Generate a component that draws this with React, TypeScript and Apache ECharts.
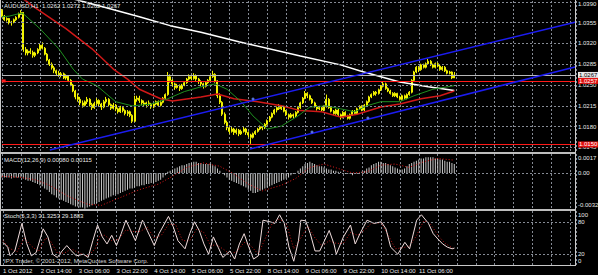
import React, { useEffect, useRef } from "react";
import * as echarts from "echarts";

// ---------- data ----------
// H1 bars, index 0 = 1 Oct 2012 22:00, [open, high, low, close]
const ohlc: number[][] = [
  [1.0376, 1.0378, 1.0364, 1.0366],
  [1.0366, 1.0368, 1.0358, 1.0360],
  [1.0360, 1.0364, 1.0357, 1.0362],
  [1.0362, 1.0363, 1.0352, 1.0355],
  [1.0355, 1.0358, 1.0350, 1.0356],
  [1.0356, 1.0362, 1.0354, 1.0360],
  [1.0360, 1.0366, 1.0358, 1.0364],
  [1.0364, 1.0372, 1.0362, 1.0370],
  [1.0370, 1.0376, 1.0368, 1.0372],
  [1.0372, 1.0373, 1.0306, 1.0310],
  [1.0310, 1.0314, 1.0300, 1.0304],
  [1.0304, 1.0310, 1.0300, 1.0307],
  [1.0307, 1.0312, 1.0302, 1.0305],
  [1.0305, 1.0308, 1.0296, 1.0300],
  [1.0300, 1.0306, 1.0297, 1.0304],
  [1.0304, 1.0312, 1.0302, 1.0310],
  [1.0310, 1.0320, 1.0308, 1.0317],
  [1.0317, 1.0322, 1.0310, 1.0312],
  [1.0312, 1.0314, 1.0300, 1.0302],
  [1.0302, 1.0304, 1.0290, 1.0292],
  [1.0292, 1.0294, 1.0282, 1.0285],
  [1.0285, 1.0288, 1.0276, 1.0279],
  [1.0279, 1.0282, 1.0270, 1.0274],
  [1.0274, 1.0276, 1.0266, 1.0270],
  [1.0270, 1.0274, 1.0264, 1.0267],
  [1.0267, 1.0272, 1.0263, 1.0269],
  [1.0269, 1.0271, 1.0260, 1.0262],
  [1.0262, 1.0268, 1.0259, 1.0265],
  [1.0265, 1.0266, 1.0255, 1.0258],
  [1.0258, 1.0260, 1.0248, 1.0250],
  [1.0250, 1.0252, 1.0238, 1.0240],
  [1.0240, 1.0242, 1.0226, 1.0230],
  [1.0230, 1.0236, 1.0222, 1.0226],
  [1.0226, 1.0230, 1.0216, 1.0220],
  [1.0220, 1.0224, 1.0212, 1.0216],
  [1.0216, 1.0224, 1.0214, 1.0222],
  [1.0222, 1.0230, 1.0218, 1.0226],
  [1.0226, 1.0228, 1.0214, 1.0217],
  [1.0217, 1.0220, 1.0208, 1.0212],
  [1.0212, 1.0222, 1.0210, 1.0219],
  [1.0219, 1.0228, 1.0216, 1.0224],
  [1.0224, 1.0226, 1.0214, 1.0218],
  [1.0218, 1.0220, 1.0208, 1.0213],
  [1.0213, 1.0225, 1.0211, 1.0222],
  [1.0222, 1.0230, 1.0219, 1.0226],
  [1.0226, 1.0228, 1.0214, 1.0217],
  [1.0217, 1.0219, 1.0208, 1.0211],
  [1.0211, 1.0220, 1.0209, 1.0216],
  [1.0216, 1.0218, 1.0206, 1.0210],
  [1.0210, 1.0212, 1.0202, 1.0205],
  [1.0205, 1.0215, 1.0203, 1.0212],
  [1.0212, 1.0214, 1.0204, 1.0207],
  [1.0207, 1.0209, 1.0199, 1.0202],
  [1.0202, 1.0208, 1.0198, 1.0205],
  [1.0205, 1.0207, 1.0196, 1.0199],
  [1.0199, 1.0201, 1.0186, 1.0189],
  [1.0189, 1.0232, 1.0188, 1.0226],
  [1.0226, 1.0232, 1.0222, 1.0228],
  [1.0228, 1.0232, 1.0220, 1.0224],
  [1.0224, 1.0226, 1.0216, 1.0220],
  [1.0220, 1.0224, 1.0214, 1.0217],
  [1.0217, 1.0222, 1.0212, 1.0220],
  [1.0220, 1.0224, 1.0215, 1.0218],
  [1.0218, 1.0220, 1.0210, 1.0213],
  [1.0213, 1.0220, 1.0211, 1.0218],
  [1.0218, 1.0224, 1.0216, 1.0222],
  [1.0222, 1.0224, 1.0213, 1.0216],
  [1.0216, 1.0224, 1.0214, 1.0221],
  [1.0221, 1.0230, 1.0219, 1.0228],
  [1.0228, 1.0236, 1.0226, 1.0234],
  [1.0234, 1.0272, 1.0232, 1.0264],
  [1.0264, 1.0268, 1.0254, 1.0258],
  [1.0258, 1.0260, 1.0248, 1.0252],
  [1.0252, 1.0254, 1.0242, 1.0246],
  [1.0246, 1.0252, 1.0244, 1.0249],
  [1.0249, 1.0251, 1.0240, 1.0244],
  [1.0244, 1.0252, 1.0242, 1.0250],
  [1.0250, 1.0256, 1.0248, 1.0254],
  [1.0254, 1.0262, 1.0252, 1.0260],
  [1.0260, 1.0268, 1.0258, 1.0264],
  [1.0264, 1.0266, 1.0258, 1.0261],
  [1.0261, 1.0270, 1.0259, 1.0266],
  [1.0266, 1.0268, 1.0257, 1.0260],
  [1.0260, 1.0262, 1.0252, 1.0256],
  [1.0256, 1.0258, 1.0248, 1.0252],
  [1.0252, 1.0254, 1.0244, 1.0248],
  [1.0248, 1.0256, 1.0246, 1.0254],
  [1.0254, 1.0260, 1.0252, 1.0258],
  [1.0258, 1.0266, 1.0256, 1.0264],
  [1.0264, 1.0274, 1.0262, 1.0268],
  [1.0268, 1.0270, 1.0254, 1.0257],
  [1.0257, 1.0258, 1.0228, 1.0232],
  [1.0232, 1.0236, 1.0218, 1.0221],
  [1.0221, 1.0223, 1.0198, 1.0201],
  [1.0201, 1.0204, 1.0184, 1.0187],
  [1.0187, 1.0190, 1.0174, 1.0178],
  [1.0178, 1.0180, 1.0168, 1.0172],
  [1.0172, 1.0180, 1.0170, 1.0176],
  [1.0176, 1.0178, 1.0166, 1.0170],
  [1.0170, 1.0177, 1.0167, 1.0174],
  [1.0174, 1.0176, 1.0164, 1.0168],
  [1.0168, 1.0175, 1.0166, 1.0172],
  [1.0172, 1.0180, 1.0170, 1.0176],
  [1.0176, 1.0178, 1.0166, 1.0170],
  [1.0170, 1.0172, 1.0162, 1.0166],
  [1.0166, 1.0168, 1.0151, 1.0162],
  [1.0162, 1.0170, 1.0160, 1.0168],
  [1.0168, 1.0174, 1.0166, 1.0172],
  [1.0172, 1.0178, 1.0170, 1.0176],
  [1.0176, 1.0182, 1.0174, 1.0180],
  [1.0180, 1.0181, 1.0174, 1.0178],
  [1.0178, 1.0186, 1.0176, 1.0184],
  [1.0184, 1.0192, 1.0182, 1.0190],
  [1.0190, 1.0198, 1.0188, 1.0196],
  [1.0196, 1.0204, 1.0194, 1.0202],
  [1.0202, 1.0210, 1.0200, 1.0208],
  [1.0208, 1.0214, 1.0204, 1.0212],
  [1.0212, 1.0218, 1.0208, 1.0210],
  [1.0210, 1.0216, 1.0208, 1.0214],
  [1.0214, 1.0215, 1.0204, 1.0206],
  [1.0206, 1.0208, 1.0198, 1.0200],
  [1.0200, 1.0202, 1.0192, 1.0196],
  [1.0196, 1.0203, 1.0194, 1.0200],
  [1.0200, 1.0202, 1.0194, 1.0198],
  [1.0198, 1.0206, 1.0196, 1.0204],
  [1.0204, 1.0214, 1.0202, 1.0212],
  [1.0212, 1.0222, 1.0210, 1.0220],
  [1.0220, 1.0230, 1.0218, 1.0228],
  [1.0228, 1.0240, 1.0226, 1.0236],
  [1.0236, 1.0238, 1.0228, 1.0232],
  [1.0232, 1.0234, 1.0224, 1.0226],
  [1.0226, 1.0228, 1.0218, 1.0220],
  [1.0220, 1.0222, 1.0212, 1.0214],
  [1.0214, 1.0216, 1.0207, 1.0210],
  [1.0210, 1.0215, 1.0208, 1.0212],
  [1.0212, 1.0213, 1.0205, 1.0208],
  [1.0208, 1.0216, 1.0206, 1.0214],
  [1.0214, 1.0234, 1.0212, 1.0226],
  [1.0226, 1.0228, 1.0210, 1.0212],
  [1.0212, 1.0214, 1.0204, 1.0206],
  [1.0206, 1.0208, 1.0200, 1.0202],
  [1.0202, 1.0210, 1.0200, 1.0208],
  [1.0208, 1.0210, 1.0198, 1.0200],
  [1.0200, 1.0202, 1.0192, 1.0196],
  [1.0196, 1.0206, 1.0194, 1.0204],
  [1.0204, 1.0206, 1.0196, 1.0198],
  [1.0198, 1.0200, 1.0192, 1.0194],
  [1.0194, 1.0202, 1.0192, 1.0200],
  [1.0200, 1.0208, 1.0198, 1.0206],
  [1.0206, 1.0208, 1.0200, 1.0202],
  [1.0202, 1.0212, 1.0200, 1.0210],
  [1.0210, 1.0216, 1.0208, 1.0214],
  [1.0214, 1.0216, 1.0206, 1.0208],
  [1.0208, 1.0218, 1.0206, 1.0216],
  [1.0216, 1.0224, 1.0214, 1.0222],
  [1.0222, 1.0232, 1.0220, 1.0230],
  [1.0230, 1.0236, 1.0228, 1.0234],
  [1.0234, 1.0240, 1.0232, 1.0238],
  [1.0238, 1.0240, 1.0232, 1.0236],
  [1.0236, 1.0244, 1.0234, 1.0242],
  [1.0242, 1.0250, 1.0240, 1.0248],
  [1.0248, 1.0256, 1.0246, 1.0252],
  [1.0252, 1.0254, 1.0242, 1.0244],
  [1.0244, 1.0246, 1.0238, 1.0240],
  [1.0240, 1.0242, 1.0234, 1.0236],
  [1.0236, 1.0238, 1.0230, 1.0232],
  [1.0232, 1.0238, 1.0230, 1.0236],
  [1.0236, 1.0237, 1.0228, 1.0230],
  [1.0230, 1.0232, 1.0224, 1.0226],
  [1.0226, 1.0234, 1.0224, 1.0232],
  [1.0232, 1.0234, 1.0226, 1.0228],
  [1.0228, 1.0236, 1.0226, 1.0234],
  [1.0234, 1.0240, 1.0232, 1.0238],
  [1.0238, 1.0260, 1.0236, 1.0258],
  [1.0258, 1.0274, 1.0256, 1.0272],
  [1.0272, 1.0282, 1.0270, 1.0280],
  [1.0280, 1.0282, 1.0272, 1.0276],
  [1.0276, 1.0286, 1.0274, 1.0284],
  [1.0284, 1.0286, 1.0278, 1.0280],
  [1.0280, 1.0288, 1.0278, 1.0286],
  [1.0286, 1.0294, 1.0284, 1.0290],
  [1.0290, 1.0292, 1.0282, 1.0284],
  [1.0284, 1.0286, 1.0278, 1.0280],
  [1.0280, 1.0288, 1.0278, 1.0286],
  [1.0286, 1.0288, 1.0280, 1.0282],
  [1.0282, 1.0284, 1.0274, 1.0276],
  [1.0276, 1.0282, 1.0274, 1.0280],
  [1.0280, 1.0282, 1.0272, 1.0274],
  [1.0274, 1.0276, 1.0268, 1.0270],
  [1.0270, 1.0274, 1.0268, 1.0272],
  [1.0272, 1.0273, 1.0260, 1.0262],
  [1.0262, 1.0272, 1.0262, 1.0267],
];

// moving averages read at points along each line: [bar index, price]
const maWhite = [[0, 1.0424], [16, 1.0409], [33, 1.0392], [46, 1.0378], [58, 1.0365], [71, 1.035], [84, 1.0339], [100, 1.0323], [126, 1.0299], [143, 1.0284], [151, 1.0274], [160, 1.0264], [168, 1.0255], [180, 1.0247], [191, 1.0241]];
const maRed = [[0, 1.0418], [10, 1.0392], [13, 1.0383], [27, 1.0345], [38, 1.0311], [47, 1.0277], [53, 1.026], [58, 1.0243], [67, 1.0227], [72, 1.0223], [84, 1.023], [91, 1.0235], [98, 1.0227], [108, 1.0222], [118, 1.0215], [126, 1.0207], [135, 1.0205], [143, 1.0196], [150, 1.0201], [160, 1.0213], [168, 1.0218], [177, 1.0227], [185, 1.0232], [191, 1.024]];
const maGreen = [[0, 1.0365], [3, 1.0366], [8, 1.0371], [9, 1.037], [16, 1.0345], [24, 1.0311], [30, 1.0277], [34, 1.026], [40, 1.0249], [48, 1.0222], [55, 1.0215], [63, 1.0218], [70, 1.0227], [77, 1.0239], [84, 1.0247], [90, 1.0252], [95, 1.0243], [101, 1.0222], [106, 1.0198], [112, 1.0176], [118, 1.0181], [125, 1.0198], [130, 1.0213], [137, 1.0215], [143, 1.021], [149, 1.0205], [154, 1.0215], [160, 1.0222], [168, 1.0222], [174, 1.0232], [182, 1.0243], [191, 1.0249]];

// trend lines (two anchor points each)
const trendUpper = [[20.2, 1.01407], [242.4, 1.03562]];
const trendLower = [[104.7, 1.01424], [242.4, 1.02809]];
const trendDots = [[106, 1.02265], [130.9, 1.0171], [154.5, 1.01946]];

const resistanceLevel = 1.0257;
const supportLevel = 1.015;
const bidPrice = 1.0267;
const priceTicks = [1.039, 1.0355, 1.032, 1.0285, 1.025, 1.0215, 1.018, 1.0145];

// MACD(12,26,9) main histogram, one value per bar
const macdMain = [
  -0.0004, -0.0004, -0.0004, -0.0004, -0.0005, -0.0004, -0.0004, -0.0004,
  -0.0004, -0.0005, -0.0006, -0.0007, -0.0007, -0.0008, -0.0009,
  -0.001, -0.0011, -0.0012, -0.0014, -0.0015, -0.0017,
  -0.0019, -0.002, -0.0022, -0.0023, -0.0024, -0.0025, -0.0026, -0.0027,
  -0.0028, -0.0029, -0.003, -0.003, -0.0031, -0.0031, -0.0032, -0.0031,
  -0.003, -0.0029, -0.0028, -0.0027, -0.0026,
  -0.0025, -0.0024, -0.0023, -0.0022, -0.0021, -0.002, -0.0019, -0.0019, -0.0018,
  -0.0017, -0.0016, -0.0015, -0.0014, -0.0014, -0.0013, -0.0012, -0.0012,
  -0.0011, -0.0011, -0.001, -0.001, -0.0009, -0.0009, -0.0008, -0.0007, -0.0006,
  -0.0004, -0.0002,
  0.0001, 0.0002, 0.0003, 0.0004,
  0.0005, 0.0006, 0.0007, 0.0007,
  0.0008, 0.0009, 0.0009, 0.001, 0.001, 0.0009, 0.0009,
  0.0008, 0.0008, 0.0008, 0.0008, 0.0007, 0.0006,
  0.0004, 0.0002, 0.0,
  -0.0002, -0.0004, -0.0006, -0.0007, -0.0008, -0.0009, -0.001, -0.0011, -0.0012, -0.0013,
  -0.0015, -0.0016, -0.0018, -0.0018, -0.0017, -0.0016,
  -0.0015, -0.0014, -0.0013, -0.0012, -0.0011, -0.001, -0.0009, -0.0008,
  -0.0007, -0.0006, -0.0005, -0.0004,
  -0.0002, -0.0001, 0.0, 0.0002, 0.0004,
  0.0006, 0.0008, 0.0009, 0.001,
  0.0009, 0.0008, 0.0007, 0.0006, 0.0006, 0.0005,
  0.0004, 0.0003, 0.0003, 0.0002, 0.0002, 0.0001, 0.0001,
  0.0, -0.0001, -0.0001, -0.0001, -0.0002, -0.0001, -0.0001, 0.0,
  0.0001, 0.0002, 0.0004, 0.0005,
  0.0007, 0.0008, 0.0009, 0.001, 0.001, 0.0009, 0.0009,
  0.0008, 0.0007, 0.0006, 0.0005,
  0.0004, 0.0003, 0.0003, 0.0004,
  0.0006, 0.0008, 0.0009, 0.001, 0.0011, 0.0012,
  0.0013, 0.0013, 0.0014, 0.0014, 0.0014, 0.0014, 0.0013, 0.0013, 0.0012,
  0.0012, 0.0011, 0.001, 0.001, 0.0009, 0.0008,
];
const macdSignal = [[0, -0.0003], [8, -0.0004], [14, -0.0006], [20, -0.0011], [28, -0.0021], [36, -0.0028], [42, -0.0029], [50, -0.0022], [58, -0.0015], [66, -0.001], [72, -0.0003], [78, 0.0005], [85, 0.0009], [92, 0.0006], [98, -0.0001], [104, -0.001], [110, -0.0016], [118, -0.0011], [124, -0.0005], [130, 0.0005], [136, 0.0008], [142, 0.0004], [148, 0.0], [154, 0.0001], [160, 0.0007], [166, 0.0008], [172, 0.0005], [178, 0.001], [184, 0.0013], [191, 0.00115]];

// Stochastic(5,3,3): [bar index, value]
const stochMain = [[0, 42], [2, 33], [3, 17], [5, 26], [8, 77], [10, 40], [12, 17], [14, 23], [17, 67], [19, 52], [21, 20], [23, 14], [25, 26], [27, 36], [29, 26], [31, 17], [34, 20], [36, 14], [38, 45], [40, 74], [42, 52], [44, 39], [46, 55], [48, 36], [50, 58], [52, 83], [54, 64], [56, 45], [59, 83], [61, 64], [64, 36], [66, 58], [68, 74], [70, 90], [72, 71], [74, 45], [77, 30], [79, 58], [81, 80], [83, 64], [85, 39], [87, 20], [89, 52], [91, 33], [93, 14], [96, 26], [98, 11], [100, 39], [102, 58], [104, 33], [106, 11], [108, 17], [110, 83], [113, 80], [115, 77], [117, 93], [119, 77], [121, 33], [123, 7], [125, 45], [126, 83], [128, 82], [130, 58], [132, 26], [134, 26], [138, 64], [140, 39], [141, 20], [144, 52], [147, 74], [149, 39], [151, 58], [154, 83], [157, 77], [160, 80], [162, 67], [164, 33], [167, 20], [170, 42], [172, 30], [175, 83], [177, 93], [180, 77], [182, 58], [184, 48], [186, 39], [188, 33], [190, 30], [191, 31.3253]];
const stochSignal = [[0, 45], [3, 30], [6, 25], [9, 50], [12, 35], [15, 25], [18, 50], [20, 45], [23, 22], [26, 22], [29, 30], [32, 22], [36, 17], [39, 30], [41, 55], [43, 55], [46, 45], [49, 48], [52, 65], [55, 62], [58, 62], [61, 70], [64, 50], [67, 55], [70, 75], [73, 75], [76, 45], [79, 45], [82, 67], [85, 60], [88, 35], [90, 38], [93, 30], [96, 20], [99, 25], [102, 42], [105, 35], [108, 20], [111, 50], [114, 78], [117, 85], [120, 75], [123, 30], [126, 50], [129, 72], [132, 50], [135, 35], [138, 45], [141, 40], [144, 40], [147, 60], [150, 55], [153, 65], [156, 78], [160, 78], [163, 55], [166, 30], [169, 32], [172, 35], [175, 55], [178, 82], [181, 75], [184, 55], [187, 40], [191, 29.1883]];

// time axis labels: [bar index, text]
const timeLabelIdx = [0, 16, 32, 48, 64, 80, 96, 112, 128, 144, 160, 176];
const timeLabelText = ["1 Oct 2012", "2 Oct 14:00", "3 Oct 06:00", "3 Oct 22:00", "4 Oct 14:00", "5 Oct 06:00", "5 Oct 22:00", "8 Oct 14:00", "9 Oct 06:00", "9 Oct 22:00", "10 Oct 14:00", "11 Oct 06:00"];

// ---------- styling ----------
const FONT = "Liberation Sans, Arial, sans-serif";
const TXT = "#e8e8e8";
const GRID_C = "#858a94";
const X_MAX = 242.4;

export default function App() {
  const ref = useRef<HTMLDivElement>(null);
  useEffect(() => {
    if (!ref.current) return;
    const chart = echarts.init(ref.current, undefined, { renderer: "svg" });

    const xAxis = (gridIndex: number, labels: boolean) => ({
      type: "value",
      gridIndex,
      min: 0,
      max: X_MAX,
      interval: 8,
      axisLine: { show: false },
      axisTick: { show: false },
      splitLine: { show: true, lineStyle: { color: GRID_C, type: [2, 2], width: 1 } },
      axisLabel: labels
        ? {
            show: true,
            showMaxLabel: false,
            align: "left",
            margin: 3,
            color: TXT,
            fontSize: 6,
            fontFamily: FONT,
            formatter: (v: number) => {
              const k = timeLabelIdx.indexOf(Math.round(v));
              return k >= 0 ? timeLabelText[k] : "";
            },
          }
        : { show: false },
    });

    const lbl = (text: string, extra: any = {}) => ({
      show: true,
      position: "end",
      distance: 2,
      formatter: text,
      color: TXT,
      fontSize: 6,
      fontFamily: FONT,
      ...extra,
    });

    const gridLine = { color: GRID_C, type: [2, 2], width: 1 };
    const hidden = { color: "rgba(0,0,0,0)", width: 0 };

    const option: any = {
      animation: false,
      backgroundColor: "#000000",
      grid: [
        { left: 2, top: 1, width: 574, height: 150 },
        { left: 2, top: 154, width: 574, height: 55 },
        { left: 2, top: 211, width: 574, height: 54 },
      ],
      xAxis: [xAxis(0, false), xAxis(1, false), xAxis(2, true)],
      yAxis: [
        { type: "value", gridIndex: 0, min: 1.0139, max: 1.03915, show: false },
        { type: "value", gridIndex: 1, min: -0.00323, max: 0.0017, show: false },
        { type: "value", gridIndex: 2, min: 0, max: 100, show: false },
      ],
      series: [
        {
          type: "line",
          xAxisIndex: 0,
          yAxisIndex: 0,
          data: [],
          clip: false,
          z: 1,
          markLine: {
            silent: true,
            precision: 6,
            symbol: ["none", "none"],
            lineStyle: gridLine,
            data: priceTicks.map((p, k) => ({
              yAxis: p,
              label: lbl(p.toFixed(4), k === 0 ? { offset: [0, 2] } : {}),
            })),
          },
        },
        {
          type: "candlestick",
          xAxisIndex: 0,
          yAxisIndex: 0,
          barWidth: 1.5,
          z: 3,
          itemStyle: {
            color: "#f2f200",
            color0: "#f2f200",
            borderColor: "#f2f200",
            borderColor0: "#f2f200",
            borderWidth: 1,
          },
          data: ohlc.map((b, i) => [i, b[0], b[3], b[2], b[1]]),
          encode: { x: 0, y: [1, 2, 3, 4] },
        },
        {
          type: "line",
          xAxisIndex: 0,
          yAxisIndex: 0,
          data: maWhite,
          symbol: "none",
          z: 4,
          lineStyle: { color: "#ffffff", width: 1.5 },
        },
        {
          type: "line",
          xAxisIndex: 0,
          yAxisIndex: 0,
          data: maRed,
          symbol: "none",
          z: 4,
          lineStyle: { color: "#d01818", width: 1.5 },
        },
        {
          type: "line",
          xAxisIndex: 0,
          yAxisIndex: 0,
          data: maGreen,
          symbol: "none",
          z: 4,
          lineStyle: { color: "#1f8f1f", width: 1 },
        },
        {
          type: "line",
          xAxisIndex: 0,
          yAxisIndex: 0,
          data: trendUpper,
          symbol: "none",
          z: 5,
          lineStyle: { color: "#1c1cf0", width: 1.5 },
        },
        {
          type: "line",
          xAxisIndex: 0,
          yAxisIndex: 0,
          data: trendLower,
          symbol: "none",
          z: 5,
          lineStyle: { color: "#1c1cf0", width: 1.5 },
        },
        {
          type: "scatter",
          xAxisIndex: 0,
          yAxisIndex: 0,
          data: trendDots,
          symbolSize: 3,
          z: 6,
          itemStyle: { color: "#6a8cff" },
        },
        {
          type: "line",
          xAxisIndex: 0,
          yAxisIndex: 0,
          data: [],
          clip: false,
          z: 6,
          markPoint: {
            silent: true,
            data: [
              {
                coord: [0.7, resistanceLevel],
                symbol: "rect",
                symbolSize: [4, 3],
                itemStyle: { color: "#ff2020" },
                label: { show: false },
              },
            ],
          },
          markLine: {
            silent: true,
            precision: 6,
            symbol: ["none", "none"],
            data: [
              {
                yAxis: bidPrice,
                lineStyle: { color: "#b8b8b8", width: 1, type: "solid" },
                label: lbl(bidPrice.toFixed(4), { color: "#000", backgroundColor: "#e8e8e8", padding: [0, 1] }),
              },
              {
                yAxis: resistanceLevel,
                lineStyle: { color: "#ff1a1a", width: 1, type: "solid" },
                label: lbl(resistanceLevel.toFixed(4), { color: "#fff", backgroundColor: "#e01010", padding: [0, 1] }),
              },
              {
                yAxis: supportLevel,
                lineStyle: { color: "#ff1a1a", width: 1, type: "solid" },
                label: lbl(supportLevel.toFixed(4), { color: "#fff", backgroundColor: "#e01010", padding: [0, 1] }),
              },
            ],
          },
        },
        // MACD
        {
          type: "bar",
          xAxisIndex: 1,
          yAxisIndex: 1,
          barWidth: 1,
          data: macdMain.map((v, i) => [i, v]),
          itemStyle: { color: "#c8c8c8" },
          markLine: {
            silent: true,
            precision: 6,
            symbol: ["none", "none"],
            lineStyle: gridLine,
            data: [
              { yAxis: 0, label: lbl("0.00") },
              { yAxis: 0.0017, lineStyle: hidden, label: lbl("0.0017", { offset: [0, 4] }) },
              { yAxis: -0.00323, lineStyle: hidden, label: lbl("-0.00323", { offset: [0, -4] }) },
            ],
          },
        },
        {
          type: "line",
          xAxisIndex: 1,
          yAxisIndex: 1,
          data: macdSignal,
          symbol: "none",
          lineStyle: { color: "#e01a1a", width: 1, type: [1, 2] },
        },
        // Stochastic
        {
          type: "line",
          xAxisIndex: 2,
          yAxisIndex: 2,
          data: stochSignal,
          symbol: "none",
          lineStyle: { color: "#c01818", width: 1, type: [1, 2] },
          markLine: {
            silent: true,
            precision: 6,
            symbol: ["none", "none"],
            lineStyle: gridLine,
            data: [
              { yAxis: 80, label: lbl("80") },
              { yAxis: 20, label: lbl("20") },
              { yAxis: 100, lineStyle: hidden, label: lbl("100", { offset: [0, 4] }) },
              { yAxis: 0, lineStyle: hidden, label: lbl("0", { offset: [0, -4] }) },
            ],
          },
        },
        {
          type: "line",
          xAxisIndex: 2,
          yAxisIndex: 2,
          data: stochMain,
          symbol: "none",
          lineStyle: { color: "#f0dcdc", width: 1 },
        },
      ],
      graphic: [
        { type: "rect", shape: { x: 575, y: 0, width: 1, height: 266 }, style: { fill: "#c8c8c8" }, z: 10 },
        { type: "rect", shape: { x: 0, y: 0, width: 1, height: 266 }, style: { fill: "#c8c8c8" }, z: 10 },
        { type: "rect", shape: { x: 0, y: 152, width: 576, height: 2 }, style: { fill: "#bdbdbd" }, z: 10 },
        { type: "rect", shape: { x: 0, y: 209, width: 576, height: 2 }, style: { fill: "#bdbdbd" }, z: 10 },
        { type: "rect", shape: { x: 0, y: 265, width: 576, height: 1 }, style: { fill: "#c8c8c8" }, z: 10 },
        {
          type: "text", x: 4, y: 6, z: 10,
          style: { text: "AUDUSD,H1  1.0262 1.0272 1.0262 1.0267", fill: TXT, font: `6px ${FONT}`, verticalAlign: "middle", textVerticalAlign: "middle" },
        },
        {
          type: "text", x: 4, y: 160, z: 10,
          style: { text: "MACD(12,26,9) 0.00080 0.00115", fill: TXT, font: `6px ${FONT}`, verticalAlign: "middle", textVerticalAlign: "middle" },
        },
        {
          type: "text", x: 4, y: 216, z: 10,
          style: { text: "Stoch(5,3,3) 31.3253 29.1883", fill: TXT, font: `6px ${FONT}`, verticalAlign: "middle", textVerticalAlign: "middle" },
        },
        {
          type: "text", x: 4, y: 260.5, z: 10,
          style: { text: "IPX Trader, © 2001-2012, MetaQuotes Software Corp.", fill: "#d8d8d8", font: `6px ${FONT}`, verticalAlign: "middle", textVerticalAlign: "middle" },
        },
      ],
    };

    chart.setOption(option);
    return () => chart.dispose();
  }, []);

  return <div ref={ref} style={{ width: 598, height: 275, position: "absolute", left: 0, top: 0 }} />;
}
